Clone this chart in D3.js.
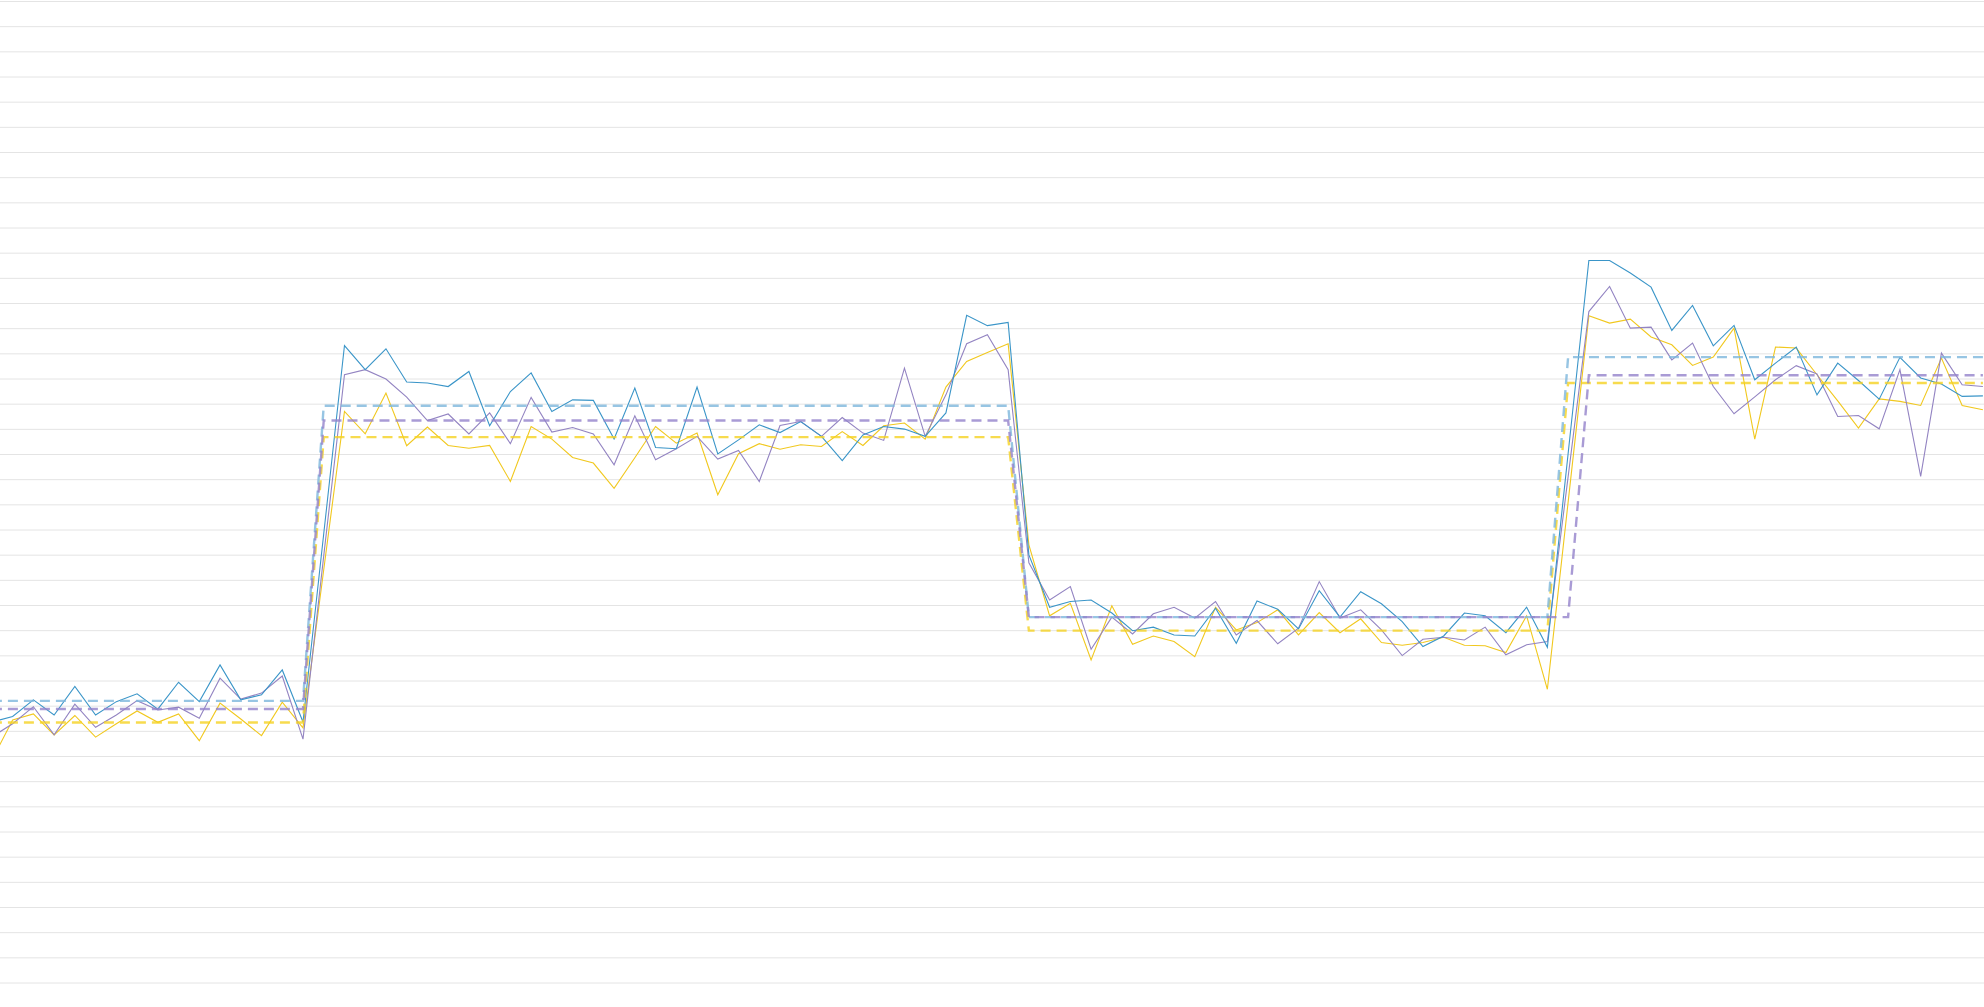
<!DOCTYPE html>
<html>
<head>
<meta charset="utf-8">
<script src="https://cdn.jsdelivr.net/npm/d3@7"></script>
<style>
  html, body { margin: 0; padding: 0; background: #fff; overflow: hidden; }
  svg { display: block; }
</style>
</head>
<body>
<div id="chart"></div>
<script>
// periods along the x axis
var periods = d3.range(1, 98);

// solid series, one value per period
var seriesBlue = [
  103.5, 105.7, 112.3, 106.3, 117.6, 106.3, 111.6, 114.7, 108.6, 119.3,
  111.6, 126.2, 112.3, 114.3, 124.2, 103.5, 178.3, 253.1, 243.5, 251.8,
  238.6, 238.2, 236.8, 242.8, 221.2, 234.8, 242.2, 226.9, 231.5, 231.3,
  216.0, 236.2, 212.6, 212.1, 236.6, 210.0, 215.6, 221.6, 218.5, 222.9,
  217.0, 207.4, 217.6, 220.9, 219.9, 217.0, 226.3, 265.1, 261.0, 262.3,
  169.9, 149.1, 151.4, 152.0, 146.8, 139.8, 141.2, 138.1, 137.7, 148.7,
  134.8, 151.6, 148.3, 140.5, 155.7, 145.2, 155.3, 150.5, 143.4, 133.5,
  137.7, 146.8, 145.7, 139.0, 149.1, 133.2, 210.1, 286.9, 286.9, 281.9,
  276.3, 259.1, 269.0, 253.0, 261.1, 239.5, 246.1, 252.5, 233.5, 246.1,
  239.2, 231.8, 248.4, 240.2, 237.8, 232.9, 233.1
];
var seriesPurple = [
  97.6, 102.8, 109.6, 98.4, 110.6, 101.4, 106.3, 112.0, 108.3, 109.4,
  105.0, 120.9, 112.6, 115.0, 121.8, 96.7, 169.5, 241.5, 243.5, 239.8,
  232.6, 223.3, 225.9, 218.0, 226.3, 214.1, 232.5, 218.7, 220.5, 218.0,
  205.7, 225.2, 207.7, 212.1, 217.0, 208.0, 211.4, 199.1, 221.3, 222.9,
  217.0, 224.5, 218.3, 215.4, 244.1, 217.0, 233.5, 253.8, 257.4, 243.5,
  166.8, 152.0, 157.3, 132.4, 145.2, 138.5, 146.5, 149.1, 144.8, 151.4,
  138.1, 143.8, 134.6, 140.8, 159.3, 144.8, 148.1, 140.1, 129.9, 136.4,
  137.2, 136.1, 141.2, 130.2, 134.2, 135.5, 200.9, 266.6, 276.6, 260.0,
  260.4, 247.4, 254.1, 236.8, 226.0, 232.7, 239.5, 245.1, 241.8, 224.9,
  225.3, 220.0, 243.5, 201.1, 250.1, 237.5, 236.8
];
var seriesYellow = [
  88.4, 104.3, 106.7, 98.4, 106.1, 97.5, 102.8, 107.9, 103.4, 106.7,
  96.1, 111.0, 104.7, 98.1, 111.4, 101.2, 164.0, 226.9, 218.0, 234.2,
  213.3, 220.7, 213.4, 212.3, 213.4, 199.1, 220.9, 215.9, 208.6, 206.4,
  196.4, 208.5, 220.9, 214.3, 218.3, 193.8, 210.1, 214.1, 211.9, 213.7,
  213.0, 218.9, 213.4, 221.2, 222.3, 215.9, 236.6, 246.8, 250.3, 253.8,
  173.9, 145.7, 150.7, 128.2, 149.7, 134.4, 137.7, 135.5, 129.5, 149.1,
  140.1, 143.0, 148.1, 138.1, 147.0, 139.0, 144.5, 135.1, 134.0, 135.1,
  137.2, 134.0, 133.8, 131.1, 145.7, 116.5, 190.8, 264.9, 262.0, 263.6,
  256.5, 253.4, 245.2, 248.5, 260.0, 215.9, 252.5, 252.1, 241.5, 231.1,
  220.3, 231.9, 230.9, 229.3, 248.1, 229.3, 227.6
];

// dashed level lines: level per regime and the period index where each regime starts
var levelBlue = [111.9, 229.2, 145.2, 248.5];
var levelPurple = [108.7, 223.3, 145.2, 241.3];
var levelYellow = [103.3, 216.7, 139.8, 238.2];
var startsBlue = [0, 16, 50, 76];
var startsPurple = [0, 16, 50, 77];
var startsYellow = [0, 16, 50, 76];

// gridline values
var gridTicks = d3.range(0, 400, 10);

var width = 1984, height = 1007;

var svg = d3.select("#chart")
  .append("svg")
  .attr("width", width)
  .attr("height", height);

var x = d3.scaleLinear()
  .domain([0, periods.length - 1])
  .range([-8.1, 1982.9]);

var y = d3.scaleLinear()
  .domain([0, 390])
  .range([982.5, 1]);

// horizontal gridlines
var grid = svg.append("g")
  .attr("class", "grid")
  .call(d3.axisLeft(y).tickValues(gridTicks).tickSize(-width).tickFormat(""));
grid.select(".domain").remove();
grid.selectAll("line")
  .attr("stroke", "#e4e4e4")
  .attr("stroke-width", 1);

var line = d3.line()
  .x(function(d, i) { return x(i); })
  .y(function(d) { return y(d); });

function stepLevels(levels, starts) {
  return periods.map(function(p, i) {
    var k = d3.bisectRight(starts, i) - 1;
    return levels[k];
  });
}

var solid = [
  { values: seriesYellow, color: "#f1c81e" },
  { values: seriesPurple, color: "#9384c2" },
  { values: seriesBlue, color: "#3a95c8" }
];

svg.selectAll(".solid")
  .data(solid)
  .enter().append("path")
  .attr("class", "solid")
  .attr("fill", "none")
  .attr("stroke", function(d) { return d.color; })
  .attr("stroke-width", 1.1)
  .attr("d", function(d) { return line(d.values); });

var dashed = [
  { values: stepLevels(levelYellow, startsYellow), color: "#f5d222" },
  { values: stepLevels(levelBlue, startsBlue), color: "#7db6dc" },
  { values: stepLevels(levelPurple, startsPurple), color: "#9482cb" }
];

svg.selectAll(".dashed")
  .data(dashed)
  .enter().append("path")
  .attr("class", "dashed")
  .attr("fill", "none")
  .attr("stroke", function(d) { return d.color; })
  .attr("stroke-opacity", 0.8)
  .attr("stroke-width", 2.4)
  .attr("stroke-dasharray", "10,6")
  .attr("d", function(d) { return line(d.values); });
</script>
</body>
</html>
